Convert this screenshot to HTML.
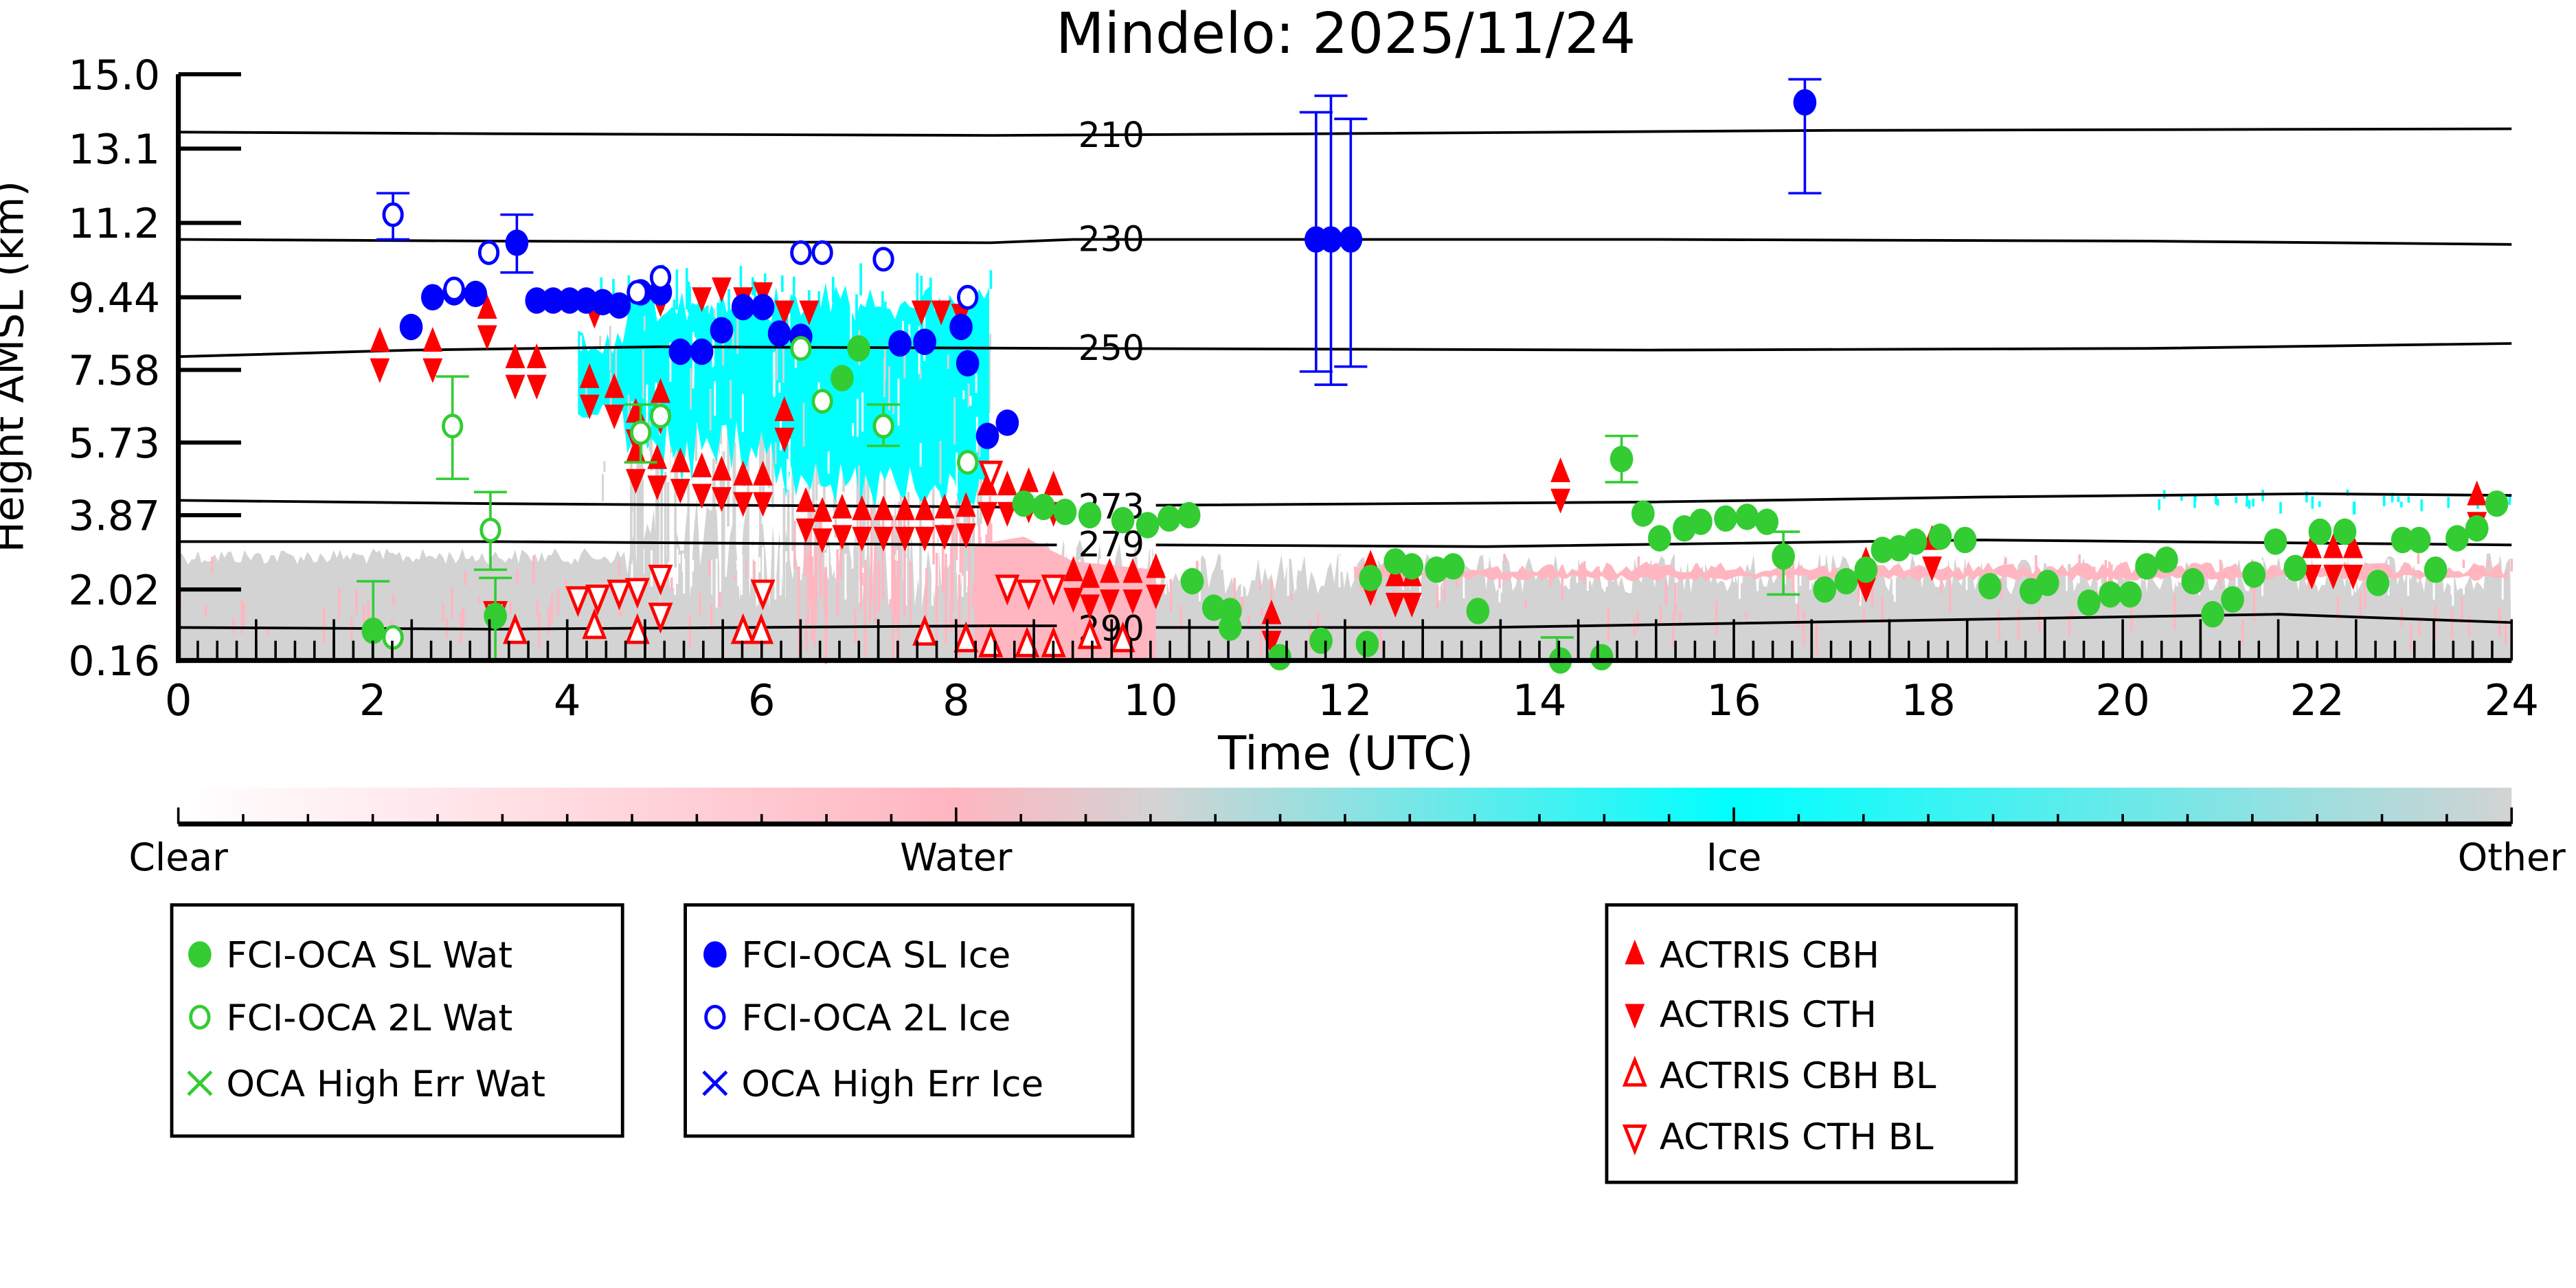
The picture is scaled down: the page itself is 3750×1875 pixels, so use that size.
<!DOCTYPE html>
<html><head><meta charset="utf-8"><style>
html,body{margin:0;padding:0;background:#fff;}
svg{display:block;font-family:"DejaVu Sans","Liberation Sans",sans-serif;}
</style></head><body>
<svg id="s" width="3750" height="1875" viewBox="0 0 1560 780" xmlns="http://www.w3.org/2000/svg">
<defs>
<linearGradient id="cb" x1="0" x2="1" y1="0" y2="0">
<stop offset="0" stop-color="#ffffff"/>
<stop offset="0.333" stop-color="#ffb6c1"/>
<stop offset="0.42" stop-color="#d3d3d3"/>
<stop offset="0.667" stop-color="#00ffff"/>
<stop offset="1" stop-color="#d3d3d3"/>
</linearGradient>
</defs>
<g id="bg"></g>
<g id="cont" fill="none" stroke="#000" stroke-width="1.6"></g>
<g id="pts"></g>
<g id="ax"></g>
</svg>
<script>
var NS="http://www.w3.org/2000/svg";
function el(p,t,a,txt){var e=document.createElementNS(NS,t);for(var q in a)e.setAttribute(q,a[q]);if(txt!==undefined)e.textContent=txt;document.getElementById(p).appendChild(e);return e;}
var X0=108,X1=1521,Y0=400,Y1=45;
var sd=12345;function rnd(){sd=(sd*1103515245+12345)%2147483648;return sd/2147483648;}
function jag(x0,x1,step,f){var s="";for(var x=x0;x<=x1;x+=step){s+=x.toFixed(1)+","+f(x).toFixed(1)+" ";}return s;}
// gray base polygon
var gp=jag(X0,X1,2,function(x){if(x<380)return 332+rnd()*10;if(x<600)return 300+rnd()*70;if(x<700)return 325+rnd()*35;return 335+rnd()*25;});
el('bg','polygon',{points:X0+","+Y0+" "+gp+X1+","+Y0,fill:'#d3d3d3'});
// white gaps in gray (streak texture)
for(var i=0;i<220;i++){var x=380+rnd()*1140;el('bg','rect',{x:x,y:330+rnd()*10,width:1.2,height:5+rnd()*25,fill:'#fff'});}
// pink areas
el('bg','polygon',{points:"590,400 590,330 620,325 650,340 700,345 700,400",fill:'#ffb6c1'});
var pp=jag(820,1521,3,function(x){return 340+rnd()*8;});
var pp2=jag(820,1521,3,function(x){return 352-rnd()*4;}).split(" ").filter(Boolean).reverse().join(" ");
el('bg','polygon',{points:pp+" "+pp2,fill:'#ffb6c1'});
for(var i=0;i<160;i++){var x=X0+rnd()*(X1-X0);var y=335+rnd()*45;el('bg','rect',{x:x,y:y,width:1.5,height:4+rnd()*18,fill:'#ffb6c1'});}
for(var i=0;i<60;i++){var x=480+rnd()*120;el('bg','rect',{x:x,y:300+rnd()*50,width:1.5,height:20+rnd()*40,fill:'#ffb6c1'});}
// gray high streaks
for(var i=0;i<80;i++){var x=380+rnd()*220;el('bg','rect',{x:x,y:200+rnd()*100,width:1.5,height:20+rnd()*80,fill:'#d3d3d3'});}
// cyan cloud
var ct=jag(350,600,3,function(x){if(x<380)return 200+rnd()*15;return 170+rnd()*25;});
var cbt=jag(350,600,3,function(x){if(x<380)return 245+rnd()*10;if(x<470)return 255+rnd()*40;return 280+rnd()*28;}).split(" ").filter(Boolean).reverse().join(" ");
el('bg','polygon',{points:ct+" "+cbt,fill:'#00ffff'});
for(var i=0;i<80;i++){var x=350+rnd()*250;el('bg','rect',{x:x,y:180+rnd()*110,width:1.2,height:5+rnd()*25,fill:(rnd()<0.5?'#fff':'#d3d3d3')});}
for(var i=0;i<40;i++){var x=350+rnd()*250;el('bg','rect',{x:x,y:158+rnd()*30,width:1.5,height:10+rnd()*20,fill:'#00ffff'});}
for(var i=0;i<30;i++){var x=1300+rnd()*220;el('bg','rect',{x:x,y:296+rnd()*8,width:1.5,height:3+rnd()*5,fill:'#00ffff'});}
// contours
function cl(pts){el('cont','polyline',{points:pts});}
cl("108,80 300,81 600,82 800,81 1100,79 1521,78");
cl("108,145 300,146 600,147 650,145 1000,145 1300,146 1521,148");
cl("108,216 250,212 400,210 650,211 1000,212 1300,211 1521,208");
cl("108,303 300,305 600,307 640,308");cl("700,306 1000,304 1200,301 1400,299 1521,300");
cl("108,328 300,328 600,330 640,330");cl("700,330 900,331 1200,327 1521,330");
cl("108,380 300,381 600,379 640,379");cl("700,380 900,380 1200,375 1380,372 1521,377");
function lab(x,y,t){el('cont','text',{x:x,y:y+7,'font-size':21,fill:'#000',stroke:'none','text-anchor':'middle'},t);}
lab(673,82,'210');lab(673,145,'230');lab(673,211,'250');lab(673,307,'273');lab(673,330,'279');lab(673,381,'290');
// points
function eb(x,y1,y2,c){el('pts','line',{x1:x,y1:y1,x2:x,y2:y2,stroke:c,'stroke-width':1.5});el('pts','line',{x1:x-10,y1:y1,x2:x+10,y2:y1,stroke:c,'stroke-width':1.5});el('pts','line',{x1:x-10,y1:y2,x2:x+10,y2:y2,stroke:c,'stroke-width':1.5});}
function circ(g,x,y,c,fill){el(g,'ellipse',{cx:x,cy:y,rx:fill?7:5.5,ry:fill?8:6.5,fill:fill?c:'#fff',stroke:c,'stroke-width':fill?0:2});}
function tri(g,x,y,up,fill){var p=up?[x,y-9,x-6,y+6,x+6,y+6]:[x,y+9,x-6,y-6,x+6,y-6];el(g,'polygon',{points:p.join(','),fill:fill?'#f00':'#fff',stroke:'#f00','stroke-width':fill?0:2});}
var G='#33cc33',B='#0000ff';
[[230,215],[262,215],[295,195],[312,225],[325,225],[357,237],[372,243],[385,258],[400,246],[385,282],[398,286],[412,288],[425,291],[437,293],[450,296],[462,296],[475,257],[488,312],[498,318],[510,316],[522,317],[535,317],[548,317],[560,317],[572,316],[585,315],[598,302],[610,302],[623,300],[638,302],[650,354],[660,358],[672,355],[686,355],[700,352],[770,380],[830,350],[845,357],[855,357],[945,294],[1130,348],[1170,335],[1400,340],[1413,340],[1425,340],[1500,308]].forEach(function(p){tri('pts',p[0],p[1]-8,true,1);tri('pts',p[0],p[1]+8,false,1);});
[[360,190],[400,183],[425,180],[437,174],[450,180],[462,177],[475,188],[490,188],[558,188],[570,188],[582,190]].forEach(function(p){tri('pts',p[0],p[1],false,1);});
[[300,371],[312,383],[350,362],[362,361],[375,358],[386,357],[400,349],[360,380],[386,383],[400,372],[450,383],[461,383],[462,358],[560,384],[585,388],[600,286],[610,355],[623,358],[638,355],[600,391],[622,391],[638,391],[660,386],[680,388]].forEach(function(p){tri('pts',p[0],p[1],p[1]>375,0);});
eb(797,68,225,B);eb(806,58,233,B);eb(818,72,222,B);eb(1093,48,117,B);eb(238,117,145,B);eb(313,130,165,B);
[[249,198],[262,180],[275,177],[288,178],[313,147],[325,182],[335,182],[345,182],[355,182],[365,183],[375,185],[388,177],[400,177],[412,213],[425,213],[437,200],[450,186],[462,186],[472,202],[485,204],[545,208],[560,207],[582,198],[586,220],[598,264],[610,256],[797,145],[806,145],[818,145],[1093,62]].forEach(function(p){circ('pts',p[0],p[1],B,1);});
[[238,130],[275,175],[296,153],[386,177],[400,168],[485,153],[498,153],[535,157],[586,180]].forEach(function(p){circ('pts',p[0],p[1],B,0);});
eb(226,352,400,G);eb(274,228,290,G);eb(297,298,345,G);eb(300,350,400,G);eb(388,245,280,G);eb(535,245,270,G);eb(982,264,292,G);eb(1080,322,360,G);eb(943,386,400,G);
[[226,382],[300,373],[520,211],[510,229],[620,305],[632,307],[645,310],[660,312],[680,315],[695,318],[708,314],[720,312],[722,352],[735,368],[745,370],[745,380],[775,398],[800,388],[828,390],[830,350],[845,340],[855,343],[870,345],[880,343],[895,370],[945,400],[970,398],[982,278],[995,311],[1005,326],[1020,320],[1030,316],[1045,314],[1058,313],[1070,316],[1080,337],[1105,357],[1118,352],[1130,345],[1140,333],[1150,332],[1160,328],[1175,325],[1190,327],[1205,355],[1230,358],[1240,353],[1265,365],[1278,360],[1290,360],[1300,343],[1312,339],[1328,352],[1340,372],[1352,363],[1365,348],[1378,328],[1390,344],[1405,322],[1420,322],[1440,353],[1455,327],[1465,327],[1475,345],[1488,326],[1500,320],[1512,305]].forEach(function(p){circ('pts',p[0],p[1],G,1);});
[[238,386],[274,258],[297,321],[388,262],[400,252],[498,243],[535,258],[485,211],[586,280]].forEach(function(p){circ('pts',p[0],p[1],G,0);});
// axes
el('ax','line',{x1:X0,y1:Y1,x2:X0,y2:Y0+1.5,stroke:'#000','stroke-width':3});
el('ax','line',{x1:X0-1.5,y1:Y0,x2:X1,y2:Y0,stroke:'#000','stroke-width':3});
var yt=[[45,'15.0'],[90,'13.1'],[135,'11.2'],[180,'9.44'],[224,'7.58'],[268,'5.73'],[312,'3.87'],[357,'2.02'],[400,'0.16']];
yt.forEach(function(t){el('ax','line',{x1:X0,y1:t[0],x2:X0+38,y2:t[0],stroke:'#000','stroke-width':2.5});el('ax','text',{x:97,y:t[0]+9,'font-size':25,'text-anchor':'end'},t[1]);});
for(var k=0;k<=30;k++){var x=X0+k*(X1-X0)/30;el('ax','line',{x1:x,y1:Y0,x2:x,y2:Y0-25,stroke:'#000','stroke-width':1.5});}
for(var k=0;k<=120;k++){var x=X0+k*(X1-X0)/120;el('ax','line',{x1:x,y1:Y0,x2:x,y2:Y0-12,stroke:'#000','stroke-width':1.5});}
for(var h=0;h<=24;h+=2){el('ax','text',{x:X0+h*(X1-X0)/24,y:433,'font-size':26,'text-anchor':'middle'},String(h));}
el('ax','text',{x:815,y:466,'font-size':28,'text-anchor':'middle'},'Time (UTC)');
el('ax','text',{x:815,y:32,'font-size':34,'text-anchor':'middle'},'Mindelo: 2025/11/24');
el('ax','text',{x:0,y:0,'font-size':25,'text-anchor':'middle',transform:'translate(14,222) rotate(-90)'},'Height AMSL (km)');
// colorbar
el('ax','rect',{x:X0,y:477,width:X1-X0,height:22,fill:'url(#cb)'});
el('ax','line',{x1:X0,y1:499,x2:X1,y2:499,stroke:'#000','stroke-width':3});
for(var k=0;k<=36;k++){var x=X0+k*(X1-X0)/36;var tall=(k%12==0);el('ax','line',{x1:x,y1:499,x2:x,y2:499-(tall?10:6),stroke:'#000','stroke-width':1.5});}
[[X0,'Clear'],[X0+(X1-X0)/3,'Water'],[X0+2*(X1-X0)/3,'Ice'],[X1,'Other']].forEach(function(t){el('ax','text',{x:t[0],y:527,'font-size':23,'text-anchor':'middle'},t[1]);});
// legends
function box(x,y,w,h){el('ax','rect',{x:x,y:y,width:w,height:h,fill:'#fff',stroke:'#000','stroke-width':2});}
box(104,548,273,140);box(415,548,271,140);box(973,548,248,168);
function lt(x,y,t){el('ax','text',{x:x,y:y+8,'font-size':22},t);}
circ('ax',121,578,G,1);lt(137,578,'FCI-OCA SL Wat');
circ('ax',121,616,G,0);lt(137,616,'FCI-OCA 2L Wat');
el('ax','path',{d:'M114,649 L128,663 M128,649 L114,663',stroke:G,'stroke-width':2,fill:'none'});lt(137,656,'OCA High Err Wat');
circ('ax',433,578,B,1);lt(449,578,'FCI-OCA SL Ice');
circ('ax',433,616,B,0);lt(449,616,'FCI-OCA 2L Ice');
el('ax','path',{d:'M426,649 L440,663 M440,649 L426,663',stroke:B,'stroke-width':2,fill:'none'});lt(449,656,'OCA High Err Ice');
tri('ax',990,578,true,1);lt(1005,578,'ACTRIS CBH');
tri('ax',990,614,false,1);lt(1005,614,'ACTRIS CTH');
tri('ax',990,651,true,0);lt(1005,651,'ACTRIS CBH BL');
tri('ax',990,688,false,0);lt(1005,688,'ACTRIS CTH BL');
</script>
</body></html>
